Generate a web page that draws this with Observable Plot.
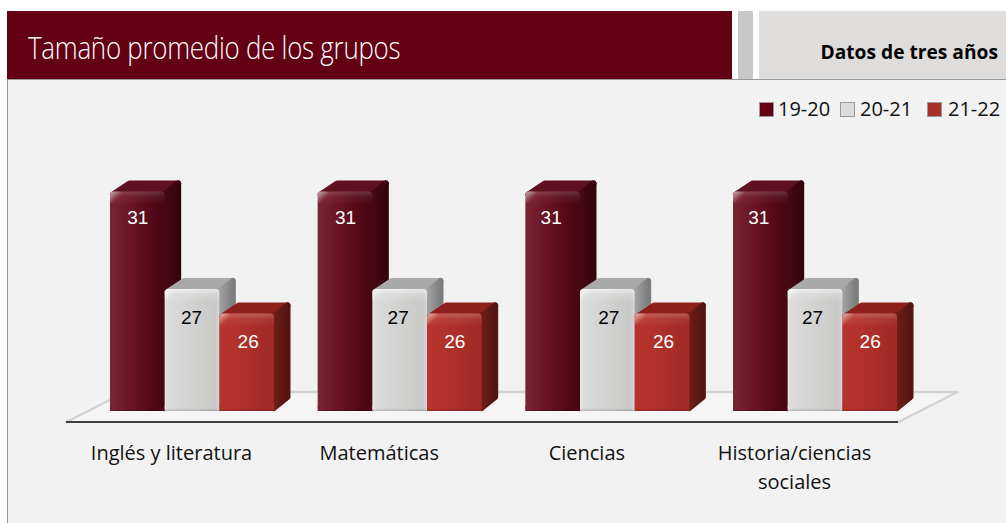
<!DOCTYPE html>
<html lang="es">
<head>
<meta charset="utf-8">
<script src="https://cdn.jsdelivr.net/npm/d3@7"></script>
<script src="https://cdn.jsdelivr.net/npm/@observablehq/plot@0.6"></script>
<style>
html,body{margin:0;padding:0;background:#fff;width:1006px;height:523px;overflow:hidden}
#title{position:absolute;left:7px;top:11px;width:725px;height:68px;background:#640014;color:#fff;box-sizing:border-box;
  font:300 31px/1 "Open Sans",sans-serif;padding-left:21px;line-height:72px;white-space:nowrap}
#title span{display:inline-block;transform:scaleX(.835);transform-origin:left center;letter-spacing:-.3px}
#sep{position:absolute;left:738px;top:11px;width:15px;height:68px;background:#c8c8c8}
#tag{position:absolute;left:759px;top:11px;width:247px;height:68px;background:#dedddc;color:#000;
  font:700 19.2px/82px "Open Sans",sans-serif;text-align:right;padding-right:8px;box-sizing:border-box;white-space:nowrap}
#panel{position:absolute;left:7px;top:79px;width:999px;height:444px;background:#f2f2f2;border-left:1px solid #999;border-top:1px solid #999;box-sizing:border-box}
#chart{position:absolute;left:0;top:79px}
#legend span.k{position:absolute;top:97px;display:flex;align-items:center;font:20px/24px "Open Sans",sans-serif;color:#111;white-space:nowrap}
#legend i{display:inline-block;width:13px;height:13px;border:1px solid #999;margin-right:4px}
</style>
</head>
<body>
<div id="title"><span>Tamaño promedio de los grupos</span></div>
<div id="sep"></div>
<div id="tag">Datos de tres años</div>
<div id="panel"></div>
<div id="chart"></div>
<div id="legend"></div>
<script>
const categories = ["Inglés y literatura", "Matemáticas", "Ciencias", "Historia/ciencias\nsociales"];
const seriesNames = ["19-20", "20-21", "21-22"];
const values1920 = [31, 31, 31, 31];
const values2021 = [27, 27, 27, 27];
const values2122 = [26, 26, 26, 26];
const seriesValues = [values1920, values2021, values2122];
const swatchColors = ["#640014", "#dcdcdc", "#a8302b"];
const labelColors = ["#fff", "#000", "#fff"];
const sideColors = ["#3c0711", "#8f8f8f", "#5e1a14"];
const topColors = ["#5f1022", "#a9a9a9", "#8f201c"];
const sheenOpacity = [0.3, 1, 0.4];
const labelDy = [26, 28, 28];
const labelNudge = [[0, 0, -2, -2], [-1, -2, 1, -3], [1, 0, 1, 0]];
const legendLeft = [759, 840, 927];
const legendGap = [4, 5, 6];

// legend
d3.select("#legend").selectAll("span").data(seriesNames).join("span").attr("class","k")
  .style("left", (d,i) => legendLeft[i] + "px")
  .html((d,i)=>`<i style="background:${swatchColors[i]};margin-right:${legendGap[i]}px"></i>${d}`);

// chart geometry (in scale units: x = one bar width, y = value units)
const W = 1006, H = 444;
const pxPerBar = 54.67, pxPerVal = 24.4, originX = 110, originY = 332, yBase = 22;
const groupStep = 207.67 / pxPerBar;
const depthX = 16.5 / pxPerBar, depthY = 11 / pxPerVal;
const cornerPx = 3, insetX = cornerPx / pxPerBar, insetY = cornerPx / pxPerVal;

const bars = [];
categories.forEach((c, g) => seriesNames.forEach((s, j) => {
  const x1 = g * groupStep + j, x2 = x1 + 1, v = seriesValues[j][g];
  bars.push({c, g, s, j, x1, x2, v, nudge: labelNudge[j][g]});
}));

const defs = () => {
  const d = d3.create("svg:defs");
  const grad = (id, stops, vertical) => {
    const g = d.append("linearGradient").attr("id", id);
    if (vertical) g.attr("x1",0).attr("y1",0).attr("x2",0).attr("y2",1);
    stops.forEach(([o,c,a]) => g.append("stop").attr("offset",o).attr("stop-color",c).attr("stop-opacity",a ?? 1));
  };
  grad("front0", [[0,"#7a2434"],[.3,"#6e1729"],[.8,"#510817"],[1,"#470512"]]);
  grad("front1", [[0,"#e6e6e6"],[.08,"#dadada"],[.5,"#d2d2d1"],[.92,"#c8c8c7"],[1,"#d6d6d6"]]);
  grad("front2", [[0,"#b8332d"],[.5,"#ae302a"],[1,"#a02a24"]]);
  grad("side0", [[0,"#4a0815"],[1,"#34050e"]]);
  grad("side1", [[0,"#a3a3a3"],[1,"#7d7d7d"]]);
  grad("side2", [[0,"#6d1f17"],[1,"#541510"]]);
  sheenOpacity.forEach((a, j) => grad(`sheen${j}`, [[0,"#fff",.6*a],[.4,"#fff",.18*a],[1,"#fff",0]], true));
  const c = d.append("linearGradient").attr("id","corner").attr("x1",0).attr("y1",0).attr("x2",1).attr("y2",1);
  [[0,.55],[.6,0]].forEach(([o,a]) => c.append("stop").attr("offset",o).attr("stop-color","#fff").attr("stop-opacity",a));
  return d.node();
};

// floor
const floorFront = yBase - 10.5 / pxPerVal, floorBack = floorFront + 30 / pxPerVal;
const floorL = -44 / pxPerBar, floorR = (898 - originX) / pxPerBar, floorDX = 59 / pxPerBar;
const floorRows = [
  {y: floorFront, x1: floorL, x2: floorR},
  {y: floorBack, x1: floorL + floorDX, x2: floorR + floorDX}
];
const floorOutline = [
  {x: floorL, y: floorFront},
  {x: floorL + floorDX, y: floorBack},
  {x: floorR + floorDX, y: floorBack},
  {x: floorR, y: floorFront}
];

const marks = [defs];
marks.push(Plot.areaX(floorRows, {y: "y", x1: "x1", x2: "x2", fill: "#f5f5f5"}));
marks.push(Plot.line(floorOutline, {x: "x", y: "y", stroke: "#d2d2d2", strokeWidth: 2.5}));
marks.push(Plot.ruleY([floorFront], {x1: floorL, x2: floorR, stroke: "#3f3f3f", strokeWidth: 2}));

const radius = cornerPx + 1;
seriesNames.forEach((s, j) => {
  const set = bars.filter(b => b.j === j);
  const sides = set.flatMap(b => [
    {id: b.g, x: b.x2, y1: yBase + insetY, y2: b.v - insetY},
    {id: b.g, x: b.x2 + depthX - insetX, y1: yBase + depthY + insetY, y2: b.v + depthY - insetY}
  ]);
  const tops = set.flatMap(b => [
    {id: b.g, y: b.v - insetY, x1: b.x1 + insetX, x2: b.x2 - insetX},
    {id: b.g, y: b.v + depthY - insetY, x1: b.x1 + depthX + insetX, x2: b.x2 + depthX - insetX}
  ]);
  marks.push(Plot.areaX(tops, {y: "y", x1: "x1", x2: "x2", z: "id", fill: topColors[j], stroke: topColors[j], strokeWidth: 2 * cornerPx, strokeLinejoin: "round"}));
  marks.push(Plot.areaY(sides, {x: "x", y1: "y1", y2: "y2", z: "id", fill: `url(#side${j})`, stroke: `url(#side${j})`, strokeWidth: 2 * cornerPx, strokeLinejoin: "round"}));
  marks.push(Plot.rect(set, {x1: "x1", x2: "x2", y1: yBase, y2: "v", fill: `url(#front${j})`, rx1y1: radius, rx2y1: radius, rx1y2: radius, rx2y2: radius}));
  marks.push(Plot.rect(set, {x1: "x1", x2: "x2", y1: yBase, y2: yBase + 0.2, fill: `url(#front${j})`}));
  marks.push(Plot.rect(set, {x1: "x1", x2: "x2", y1: d => d.v - 0.55, y2: "v", fill: `url(#sheen${j})`, rx1y1: radius, rx2y1: radius, rx1y2: radius, rx2y2: radius}));
  marks.push(Plot.rect(set, {x1: "x1", x2: d => d.x1 + 0.22, y1: d => d.v - 0.5, y2: "v", fill: "url(#corner)", rx1y1: radius, rx2y1: radius, rx1y2: radius, rx2y2: radius}));
  marks.push(Plot.rect(set, {x1: "x1", x2: "x2", y1: yBase, y2: yBase + 0.06, fill: "#000", fillOpacity: 0.15}));
  marks.push(Plot.text(set, {
    x: d => d.x1 + 0.5 + d.nudge / pxPerBar, y: "v", text: d => String(d.v), dy: labelDy[j],
    fill: labelColors[j], fontFamily: "Liberation Sans", fontSize: 19
  }));
});

const catRows = categories.map((c, g) => ({c, x: g * groupStep + 61 / pxPerBar}));
marks.push(Plot.text(catRows, {
  x: "x", y: yBase, text: "c", dy: 28, lineAnchor: "top", lineHeight: 1.45,
  fill: "#111", fontFamily: "Open Sans", fontSize: 20
}));

const plot = Plot.plot({
  width: W, height: H, margin: 0,
  style: {background: "transparent"},
  x: {domain: [-originX / pxPerBar, (W - originX) / pxPerBar], range: [0, W], axis: null},
  y: {domain: [yBase - (H - originY) / pxPerVal, yBase + originY / pxPerVal], range: [H, 0], axis: null},
  marks
});
document.getElementById("chart").append(plot);
</script>
</body>
</html>
